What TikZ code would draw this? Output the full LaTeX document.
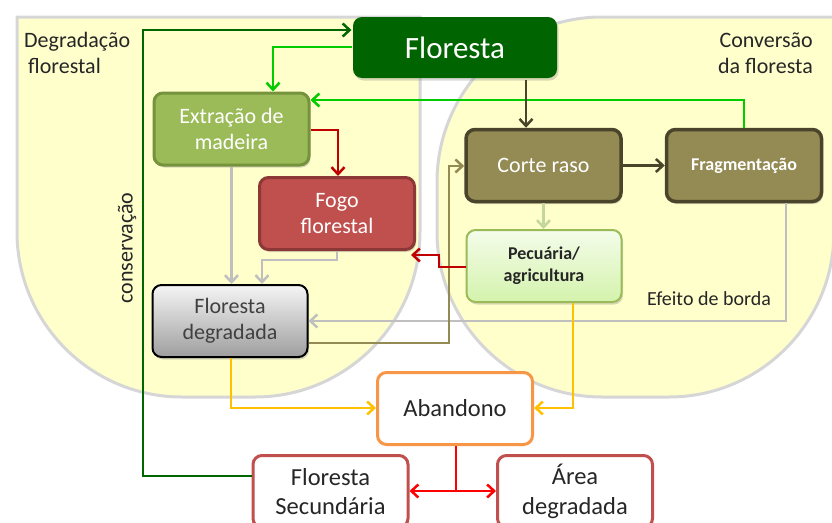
\documentclass[tikz,border=0pt]{standalone}
\usepackage{fontspec}
\setmainfont{Carlito}
\usetikzlibrary{arrows.meta,shadows}
\definecolor{bgyellow}{RGB}{255,255,204}
\definecolor{cFlor}{RGB}{0,100,0}
\definecolor{cExt}{RGB}{155,187,89}
\definecolor{cExtB}{RGB}{118,146,60}
\definecolor{cFogo}{RGB}{192,80,77}
\definecolor{cFogoB}{RGB}{140,56,54}
\definecolor{cOlive}{RGB}{148,138,84}
\definecolor{cOliveB}{RGB}{74,69,42}
\definecolor{cPecT}{RGB}{244,252,234}
\definecolor{cPecB}{RGB}{212,243,172}
\definecolor{cOrange}{RGB}{247,150,70}
\definecolor{cDkGreen}{RGB}{0,102,0}
\definecolor{cBrGreen}{RGB}{0,204,0}
\definecolor{cBrown}{RGB}{74,69,42}
\definecolor{cDkRed}{RGB}{192,0,0}
\definecolor{cGrey}{RGB}{191,191,191}
\definecolor{cLtGreen}{RGB}{195,214,155}
\definecolor{cGold}{RGB}{255,192,0}
\definecolor{cRed}{RGB}{255,0,0}
\definecolor{cText}{RGB}{38,38,38}
\begin{document}
\begin{tikzpicture}[x=1pt,y=-1pt,
  box/.style={rounded corners=9pt, align=center, inner sep=2pt,
    font=\fontsize{22}{26.4}\selectfont, text=white, line width=3pt,
    minimum width=155pt, minimum height=72pt},
  shd/.style={drop shadow={shadow xshift=1.5pt, shadow yshift=-2.5pt, opacity=0.3}},
  conn/.style={line width=2.5pt, -{Straight Barb[length=7pt,width=13pt]}},
  lbl/.style={inner sep=0pt, text=cText, font=\fontsize{22}{26.4}\selectfont},
  region/.style={fill=bgyellow, draw=black!16, line width=3pt},
  ]
\useasboundingbox (0,0) rectangle (832,522);
\clip (0,0) rectangle (832,522);
% background regions
\path[region] (17,17) -- (17,232) .. controls (17,323) and (91,397) .. (182,397)
  -- (255,397) .. controls (346,397) and (420,323) .. (420,232) -- (420,17) -- cycle;
\path[region] (840,17) -- (602,17) .. controls (511,17) and (437,91) .. (437,182)
  -- (437,232) .. controls (437,323) and (511,397) .. (602,397)
  -- (669,397) .. controls (760,397) and (834,323) .. (834,232) -- (840,232) -- cycle;

% region labels
\node[lbl, anchor=base west] (t1) at (24,47) {Degradação};
\node[lbl, anchor=base west] (t2) at (28,73) {florestal};
\node[lbl, anchor=base east] (t3) at (813,47) {Conversão};
\node[lbl, anchor=base east] (t4) at (813,73) {da floresta};
\node[lbl, rotate=90] (t5) at (127,248) {conservação};
\node[lbl, anchor=base west, font=\fontsize{20}{24}\selectfont] (t6) at (647,305) {Efeito de borda};

% boxes
\node[box, shd, fill=cFlor, draw=none, minimum width=204pt, minimum height=61pt,
  font=\fontsize{31}{37}\selectfont] (flo) at (455,47.5) {Floresta};
\node[box, shd, fill=cExt, draw=cExtB] (ext) at (231.5,129) {Extração de\\madeira};
\node[box, shd, fill=cFogo, draw=cFogoB] (fogo) at (337,213.5) {Fogo\\florestal};
\node[box, shd, top color=white!96!black, bottom color=black!38, draw=black, line width=2pt,
  text=black!75] (fdeg) at (230,321) {Floresta\\degradada};
\node[box, shd, fill=cOlive, draw=cOliveB, line width=3.5pt] (corte) at (543.5,165.5) {Corte raso};
\node[box, shd, fill=cOlive, draw=cOliveB, line width=3.5pt,
  font=\bfseries\fontsize{18}{21.6}\selectfont] (frag) at (744,165.5) {Fragmentação};
\node[box, shd, top color=cPecT, bottom color=cPecB, draw=cExt, line width=2pt,
  text=cText, font=\bfseries\fontsize{18}{21.6}\selectfont] (pec) at (544,266) {Pecuária/\\agricultura};
\node[box, fill=white, draw=cOrange, text=cText,
  font=\fontsize{24.5}{29.4}\selectfont] (aban) at (455,408.5) {Abandono};
\node[box, fill=white, draw=cFogo, text=cText,
  font=\fontsize{24.5}{29.4}\selectfont] (fsec) at (330.5,491.5) {Floresta\\Secundária};
\node[box, fill=white, draw=cFogo, text=cText,
  font=\fontsize{24.5}{29.4}\selectfont] (area) at (575,491.5) {Área\\degradada};

% routing points
\coordinate (k1) at (143,476);
\coordinate (k2) at (143,30);
\coordinate (g1) at (273,47);
\coordinate (g2) at (744,100);
\coordinate (b1) at (526,0);
\coordinate (r1) at (338,130);
\coordinate (gr2) at (262,260);
\coordinate (gr3) at (786,321);
\coordinate (o1) at (449,343);
\coordinate (o2) at (449,166);
\coordinate (r2) at (439,267);
\coordinate (r3) at (439,255);
\coordinate (r4) at (411,255);
\coordinate (y1) at (231,408);
\coordinate (y2) at (573,408);
\coordinate (rd) at (456,491);

% connectors
\draw[conn, cDkGreen] (fsec.west |- k1) -- (k1) -- (k2) -- (flo.west |- k2);
\draw[conn, cBrGreen] (flo.west |- g1) -- (g1) -- (g1 |- ext.north);
\draw[conn, cBrGreen] (frag.north) -- (g2) -- (ext.east |- g2);
\draw[conn, cBrown] (flo.south -| b1) -- (corte.north -| b1);
\draw[conn, cBrown] (corte.east) -- (frag.west);
\draw[conn, cDkRed] (ext.east |- r1) -- (r1) -- (r1 |- fogo.north);
\draw[conn, cGrey] (ext.south) -- (ext.south |- fdeg.north);
\draw[conn, cGrey] (fogo.south) |- (gr2) -- (gr2 |- fdeg.north);
\draw[conn, cGrey] (frag.south -| gr3) -- (gr3) -- (fdeg.east |- gr3);
\draw[conn, cOlive] (fdeg.east |- o1) -- (o1) -- (o2) -- (corte.west |- o2);
\draw[conn, cLtGreen] (corte.south) -- (corte.south |- pec.north);
\draw[conn, cDkRed] (pec.west |- r2) -- (r2) -- (r3) -- (r4);
\draw[conn, cGold] (fdeg.south -| y1) -- (y1) -- (aban.west |- y1);
\draw[conn, cGold] (pec.south -| y2) -- (y2) -- (aban.east |- y2);
\draw[line width=2.5pt, cRed] (aban.south -| rd) -- (rd);
\draw[line width=2.5pt, cRed, {Straight Barb[length=7pt,width=13pt]}-{Straight Barb[length=7pt,width=13pt]}]
  (fsec.east |- rd) -- (area.west |- rd);
\end{tikzpicture}
\end{document}
